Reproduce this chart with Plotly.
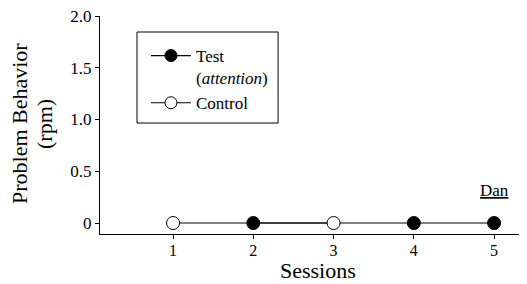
import plotly.graph_objects as go

test_sessions = [2, 4, 5]
test_values = [0, 0, 0]
control_sessions = [1, 3]
control_values = [0, 0]
x_ticks = [1, 2, 3, 4, 5]
y_ticks = [0, 0.5, 1.0, 1.5, 2.0]
y_tick_labels = ["0", "0.5", "1.0", "1.5", "2.0"]

FONT = "Times New Roman, Liberation Serif, DejaVu Serif, serif"
LINE = "rgba(0,0,0,0.5)"

fig = go.Figure()
# connecting lines (no legend)
fig.add_trace(go.Scatter(x=test_sessions, y=test_values, mode="lines",
                         line=dict(color=LINE, width=2), showlegend=False, hoverinfo="skip"))
fig.add_trace(go.Scatter(x=control_sessions, y=control_values, mode="lines",
                         line=dict(color=LINE, width=2), showlegend=False, hoverinfo="skip"))
# markers
fig.add_trace(go.Scatter(x=test_sessions, y=test_values, mode="markers",
                         marker=dict(size=13, color="black", line=dict(color="black", width=1)),
                         showlegend=False))
fig.add_trace(go.Scatter(x=control_sessions, y=control_values, mode="markers",
                         marker=dict(size=13, color="white", line=dict(color="black", width=1)),
                         showlegend=False))
# legend entries
fig.add_trace(go.Scatter(x=[None], y=[None], mode="lines+markers", name="Test<br>(<i>attention</i>)",
                         line=dict(color="black", width=1.2),
                         marker=dict(size=12, color="black", line=dict(color="black", width=1))))
fig.add_trace(go.Scatter(x=[None], y=[None], mode="lines+markers", name="Control",
                         line=dict(color="black", width=1.2),
                         marker=dict(size=12, color="white", line=dict(color="black", width=1))))

fig.add_annotation(x=5, y=0.31, text="<u>Dan</u>", showarrow=False,
                   font=dict(family=FONT, size=17, color="black"), xanchor="center")

# axis titles
fig.add_annotation(xref="paper", yref="paper", x=-0.1891, y=0.5046, text="Problem Behavior",
                   textangle=-90, showarrow=False, xanchor="center", yanchor="middle",
                   font=dict(family=FONT, size=22, color="black"))
fig.add_annotation(xref="paper", yref="paper", x=-0.1300, y=0.5046, text="(rpm)",
                   textangle=-90, showarrow=False, xanchor="center", yanchor="middle",
                   font=dict(family=FONT, size=22, color="black"))
fig.add_annotation(xref="paper", yref="paper", x=0.5154, y=-0.1697, text="Sessions",
                   showarrow=False, xanchor="center", yanchor="middle",
                   font=dict(family=FONT, size=22, color="black"))

# legend frame
fig.add_shape(type="rect", xref="paper", yref="paper",
              x0=0.0875, x1=0.421, y0=0.509, y1=0.9266,
              line=dict(color="black", width=1), fillcolor="rgba(0,0,0,0)", layer="above")

fig.update_layout(
    width=527, height=284,
    margin=dict(l=92, r=12, t=8, b=58),
    paper_bgcolor="white", plot_bgcolor="white",
    font=dict(family=FONT, color="black"),
    legend=dict(x=0.1087, y=0.899, xanchor="left", yanchor="top",
                borderwidth=0, bgcolor="rgba(0,0,0,0)",
                font=dict(family=FONT, size=17, color="black"),
                valign="top", itemwidth=40),
    xaxis=dict(range=[0.09, 5.36], tickvals=x_ticks, showgrid=False, zeroline=False,
               showline=True, linecolor="black", linewidth=1, automargin=False,
               ticks="outside", ticklen=4, tickcolor="black", ticklabelstandoff=-2,
               tickfont=dict(family=FONT, size=16)),
    yaxis=dict(range=[-0.106, 2.0005], tickvals=y_ticks, ticktext=y_tick_labels,
               showgrid=False, zeroline=False, automargin=False,
               showline=True, linecolor="black", linewidth=1,
               ticks="outside", ticklen=4, tickcolor="black", ticklabeloverflow="allow",
               tickfont=dict(family=FONT, size=17)),
)

fig.write_html("out.html")
